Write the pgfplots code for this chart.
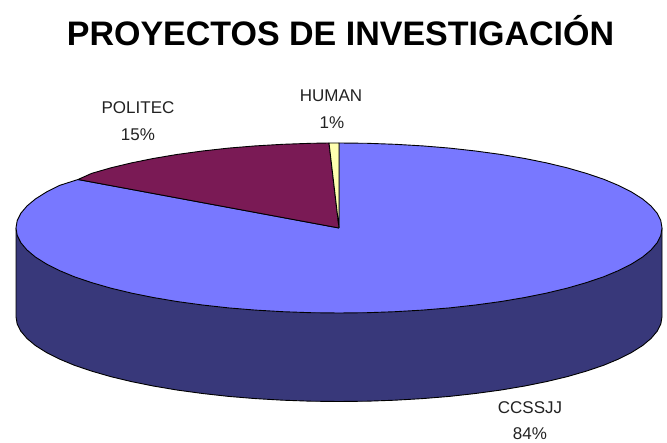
\documentclass[border=0pt]{standalone}
\usepackage{fontspec}
\setmainfont{Liberation Sans}
\usepackage{pgfplots}
\pgfplotsset{compat=1.18}
\definecolor{sideblue}{HTML}{38387A}
\definecolor{topblue}{HTML}{7878FF}
\definecolor{maroon}{HTML}{7A1A55}
\definecolor{paleyellow}{HTML}{FFFFB0}
\definecolor{lab}{HTML}{222222}
\begin{document}
\begin{tikzpicture}
\useasboundingbox (0,0) rectangle (667pt,443pt);
\begin{axis}[
  at={(0,0)}, anchor=south west,
  scale only axis, width=667pt, height=443pt,
  xmin=0, xmax=667, ymin=0, ymax=443, y dir=reverse,
  hide axis, clip=false,
  every axis plot/.append style={mark=none, line join=round, line width=0.9pt, draw=black}
]
% side wall
\addplot[fill=sideblue] coordinates {
(16,228)(16,317)(17.2,324)(20.9,331.3)(27,338.5)(35.5,345.6)(46.3,352.4)(59.3,359)(74.4,365.3)(91.6,371.1)(110.6,376.6)(131.4,381.6)(153.7,386.1)(177.5,390.1)(202.5,393.5)(228.5,396.4)(255.4,398.6)(282.9,400.2)(310.8,401.2)(339,401.5)
(367.2,401.2)(395.1,400.2)(422.6,398.6)(449.5,396.4)(475.5,393.5)(500.5,390.1)(524.3,386.1)(546.6,381.6)(567.4,376.6)(586.4,371.1)(603.6,365.3)(618.7,359)(631.7,352.4)(642.5,345.6)(651,338.5)(657.1,331.3)(660.8,324)(662,317)(662,228)(16,228)};
% CCSSJJ 84%
\addplot[fill=topblue] coordinates {
(339,228)(339,143)(367.2,143.3)(395.1,144.3)(422.6,145.9)(449.5,148.1)(475.5,151)(500.5,154.4)(524.3,158.4)(546.6,162.9)(567.4,167.9)(586.4,173.4)(603.6,179.2)(618.7,185.5)(631.7,192.1)(642.5,198.9)(651,206)(657.1,213.2)(660.8,220.6)(662,228)
(660.8,235.4)(657.1,242.8)(651,250)(642.5,257.1)(631.7,263.9)(618.7,270.5)(603.6,276.8)(586.4,282.6)(567.4,288.1)(546.6,293.1)(524.3,297.6)(500.5,301.6)(475.5,305)(449.5,307.9)(422.6,310.1)(395.1,311.7)(367.2,312.7)(339,313)
(310.8,312.7)(282.9,311.7)(255.4,310.1)(228.5,307.9)(202.5,305)(177.5,301.6)(153.7,297.6)(131.4,293.1)(110.6,288.1)(91.6,282.6)(74.4,276.8)(59.3,270.5)(46.3,263.9)(35.5,257.1)(27,250)(20.9,242.8)(17.2,235.4)(16,228)
(17.2,220.6)(20.9,213.2)(27,206)(35.5,198.9)(46.3,192.1)(59.3,185.5)(78,179.5)(339,228)};
% POLITEC 15%
\addplot[fill=maroon] coordinates {
(339,228)(78,179.5)(91.6,173.4)(110.6,167.9)(131.4,162.9)(153.7,158.4)(177.5,154.4)(202.5,151)(228.5,148.1)(255.4,145.9)(282.9,144.3)(310.8,143.3)(329,143)(339,228)};
% HUMAN 1%
\addplot[fill=paleyellow] coordinates {(339,228)(329,143)(339,143)(339,228)};
\node[font=\fontsize{34}{36}\selectfont\bfseries,text=black] at (axis cs:340.5,31) {PROYECTOS DE INVESTIGACIÓN};
\node[text=lab,font=\fontsize{17}{20}\selectfont] at (axis cs:138,108) {POLITEC};
\node[text=lab,font=\fontsize{17}{20}\selectfont] at (axis cs:138,135) {15\%};
\node[text=lab,font=\fontsize{17}{20}\selectfont] at (axis cs:331,96) {HUMAN};
\node[text=lab,font=\fontsize{17}{20}\selectfont] at (axis cs:332,123) {1\%};
\node[text=lab,font=\fontsize{17}{20}\selectfont] at (axis cs:530,408) {CCSSJJ};
\node[text=lab,font=\fontsize{17}{20}\selectfont] at (axis cs:530,434) {84\%};
\end{axis}
\end{tikzpicture}
\end{document}
